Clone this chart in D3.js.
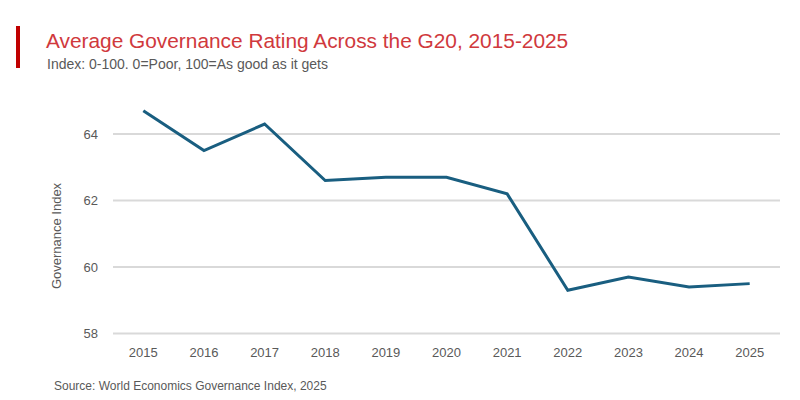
<!DOCTYPE html>
<html>
<head>
<meta charset="utf-8">
<script src="https://cdn.jsdelivr.net/npm/d3@7"></script>
<style>
  body { margin: 0; background: #fff; }
  text { font-family: "Liberation Sans", Arial, sans-serif; }
</style>
</head>
<body>
<svg id="chart"></svg>
<script>
const years = ['2015', '2016', '2017', '2018', '2019', '2020', '2021', '2022', '2023', '2024', '2025']
const governance = [64.7, 63.5, 64.3, 62.6, 62.7, 62.7, 62.2, 59.3, 59.7, 59.4, 59.5]
const yTicks = [58, 60, 62, 64]

let width = 800,
	height = 400,
	svg = d3.select('svg#chart')
		.attr('width', width)
		.attr('height', height);

let x = d3.scaleBand()
	.domain(years)
	.range([113, 780])

let y = d3.scaleLinear()
	.domain([58, 65])
	.range([333.5, 100.75])

// header
svg.append('rect')
	.attr('x', 16).attr('y', 26)
	.attr('width', 4).attr('height', 42)
	.attr('fill', '#c00000')

svg.append('text')
	.attr('x', 46).attr('y', 48)
	.attr('font-size', 20.85)
	.attr('fill', '#d0393d')
	.text('Average Governance Rating Across the G20, 2015-2025')

svg.append('text')
	.attr('x', 47).attr('y', 69)
	.attr('font-size', 14)
	.attr('fill', '#595959')
	.text('Index: 0-100. 0=Poor, 100=As good as it gets')

// gridlines
svg.append('g')
	.selectAll('line')
	.data(yTicks)
	.join('line')
	.attr('x1', 113).attr('x2', 780)
	.attr('y1', d => y(d)).attr('y2', d => y(d))
	.attr('stroke', '#d9d9d9')
	.attr('stroke-width', 2)

// y axis
let yAxis = svg.append('g')
	.attr('transform', 'translate(104,0)')
	.call(d3.axisLeft(y).tickValues(yTicks).tickFormat(d3.format('d')).tickSize(0).tickPadding(6))
yAxis.select('.domain').remove()
yAxis.selectAll('text')
	.attr('font-size', 13)
	.attr('font-family', '"Liberation Sans", Arial, sans-serif')
	.attr('fill', '#595959')

// x axis
let xAxis = svg.append('g')
	.attr('transform', 'translate(0,' + 345 + ')')
	.call(d3.axisBottom(x).tickSize(0).tickPadding(3))
xAxis.select('.domain').remove()
xAxis.selectAll('text')
	.attr('font-size', 13)
	.attr('font-family', '"Liberation Sans", Arial, sans-serif')
	.attr('fill', '#595959')

svg.append('text')
	.attr('transform', 'translate(61,236) rotate(-90)')
	.attr('text-anchor', 'middle')
	.attr('font-size', 13)
	.attr('fill', '#595959')
	.text('Governance Index')

// the line
let line = d3.line()
	.x((d, i) => x(years[i]) + x.bandwidth() / 2)
	.y(d => y(d))

svg.append('path')
	.datum(governance)
	.attr('d', line)
	.attr('fill', 'none')
	.attr('stroke', '#195e80')
	.attr('stroke-width', 3)

svg.append('text')
	.attr('x', 54).attr('y', 390)
	.attr('font-size', 12)
	.attr('fill', '#595959')
	.text('Source: World Economics Governance Index, 2025')
</script>
</body>
</html>
